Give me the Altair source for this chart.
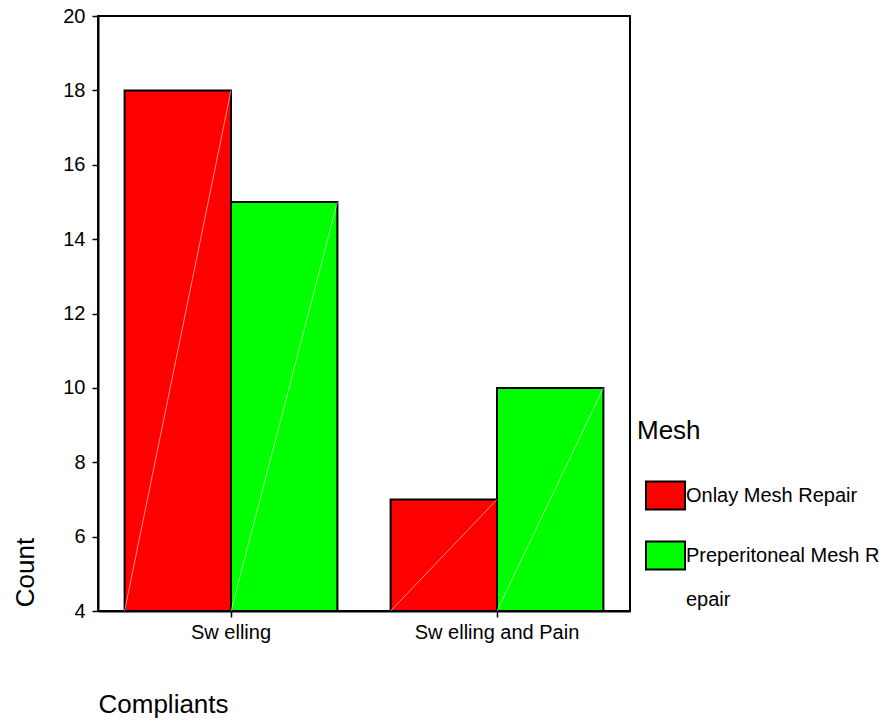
import altair as alt
import pandas as pd

categories = ["Sw elling", "Sw elling and Pain"]
meshes = ["Onlay Mesh Repair", "Preperitoneal Mesh Repair"]
onlay_counts = [18, 7]
preperitoneal_counts = [15, 10]
colors = ["#FF0000", "#00FF00"]
y_ticks = [4, 6, 8, 10, 12, 14, 16, 18, 20]
y_min = 4

PAD_INNER = 0.2
PAD_OUTER = 0.1

rows = []
for i, c in enumerate(categories):
    rows.append({"cat": c, "mesh": meshes[0], "count": onlay_counts[i]})
    rows.append({"cat": c, "mesh": meshes[1], "count": preperitoneal_counts[i]})
df = pd.DataFrame(rows)

# diagonal highlight of each bar (bottom-left corner to top-right corner),
# expressed in category units of a band scale with the same paddings
half = (1 - PAD_INNER) / 2
diag_rows = []
for i, c in enumerate(categories):
    mid = i + 0.5
    diag_rows += [
        {"key": f"{i}-0", "px": mid - half, "v": y_min, "ord": 0},
        {"key": f"{i}-0", "px": mid, "v": onlay_counts[i], "ord": 1},
        {"key": f"{i}-1", "px": mid, "v": y_min, "ord": 0},
        {"key": f"{i}-1", "px": mid + half, "v": preperitoneal_counts[i], "ord": 1},
    ]
ddf = pd.DataFrame(diag_rows)

FONT = "Liberation Sans, Arial, sans-serif"

x_enc = alt.X(
    "cat:N",
    sort=categories,
    scale=alt.Scale(paddingInner=PAD_INNER, paddingOuter=PAD_OUTER),
    axis=alt.Axis(
        title="Compliants",
        titleX=0,
        titleY=101,
        titleAlign="left",
        titleBaseline="alphabetic",
        titleFontSize=26,
        titleFontWeight="normal",
        labelAngle=0,
        labelFontSize=20,
        labelPadding=5,
        labelBaseline="top",
        tickSize=6,
        bandPosition=0.5,
    ),
)
y_scale = alt.Scale(domain=[4, 20], zero=False, nice=False)
y_enc = alt.Y(
    "count:Q",
    scale=y_scale,
    axis=alt.Axis(
        values=y_ticks,
        title="Count",
        titleAngle=-90,
        titleX=-65,
        titleY=556,
        titleAlign="center",
        titleBaseline="alphabetic",
        titleFontSize=26,
        titleFontWeight="normal",
        labelFontSize=20,
        labelPadding=7,
        tickSize=6,
        grid=False,
    ),
)

label_expr = (
    "datum.label == 'Preperitoneal Mesh Repair' ? "
    "['Preperitoneal Mesh R', 'epair'] : datum.label"
)

bars = alt.Chart(df).mark_bar(stroke="black", strokeWidth=2).encode(
    x=x_enc,
    xOffset=alt.XOffset("mesh:N", sort=meshes, scale=alt.Scale(paddingInner=0, paddingOuter=0)),
    y=y_enc,
    y2=alt.datum(y_min),
    color=alt.Color(
        "mesh:N",
        sort=meshes,
        scale=alt.Scale(domain=meshes, range=colors),
        legend=alt.Legend(
            title="Mesh",
            orient="none",
            legendX=539,
            legendY=402,
            padding=0,
            titleFontSize=26,
            titleFontWeight="normal",
            titlePadding=31,
            labelFontSize=20,
            labelLimit=600,
            labelOffset=0,
            labelBaseline="middle",
            labelExpr=label_expr,
            symbolType="M-1,-0.72L1,-0.72L1,0.72L-1,0.72Z",
            symbolSize=1521,
            symbolStrokeColor="black",
            symbolStrokeWidth=2,
            symbolOffset=8,
            rowPadding=21,
        ),
    ),
)

diag = alt.Chart(ddf).mark_line(color="white", strokeWidth=1, opacity=0.55).encode(
    x=alt.X("px:Q", scale=alt.Scale(domain=[0, len(categories)], nice=False, zero=False), axis=None),
    y=alt.Y("v:Q", scale=y_scale),
    detail=alt.Detail("key:N"),
    order=alt.Order("ord:Q"),
)

chart = (
    alt.layer(bars, diag)
    .resolve_scale(x="independent")
    .properties(
        width=532,
        height=595,
        autosize=alt.AutoSizeParams(type="none"),
        padding={"left": 90, "top": 8, "right": 258, "bottom": 111},
    )
    .configure(font=FONT, style={"guide-label": {"lineHeight": 44}})
    .configure_view(stroke="black", strokeWidth=2)
    .configure_axis(
        domainColor="black",
        domainWidth=2,
        tickColor="black",
        tickWidth=1.5,
        labelColor="black",
        titleColor="black",
        labelFont=FONT,
        titleFont=FONT,
    )
    .configure_legend(labelColor="black", titleColor="black", labelFont=FONT, titleFont=FONT)
)

chart.save("out.html", embed_options={"renderer": "svg", "actions": False})
